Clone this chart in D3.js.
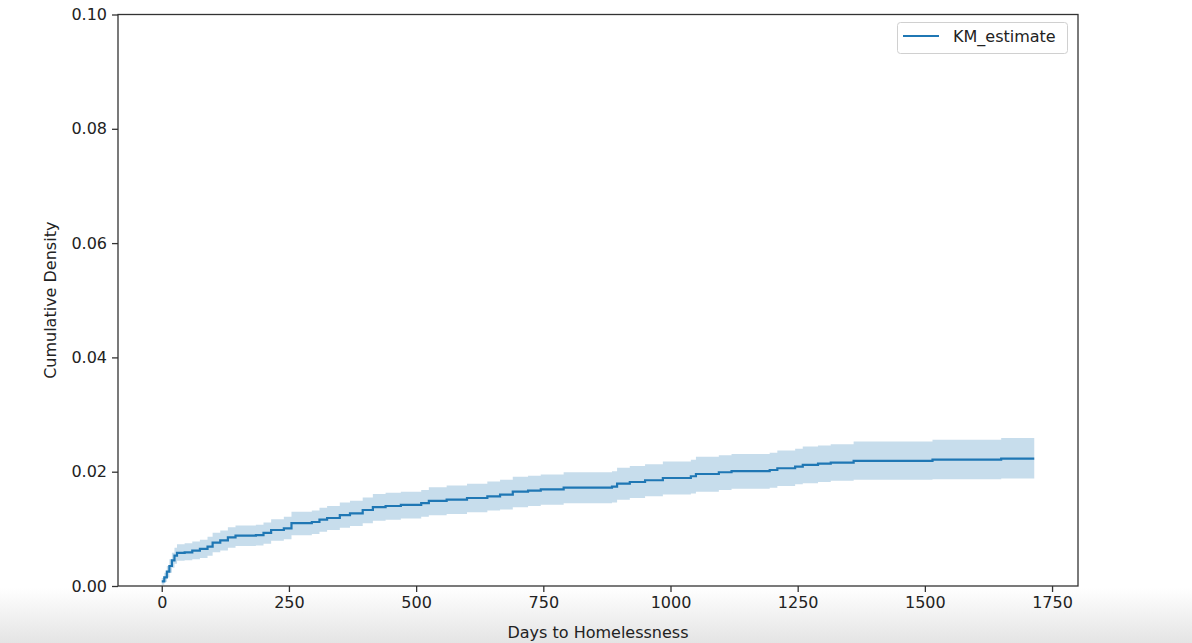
<!DOCTYPE html>
<html><head><meta charset="utf-8">
<script src="https://cdn.jsdelivr.net/npm/d3@7"></script>
<style>html,body{margin:0;padding:0;background:#fff;overflow:hidden}svg{display:block}text{font-family:"DejaVu Sans",sans-serif;fill:#222}</style>
</head><body>
<svg id="c" width="1192" height="643"></svg>
<script>
// Kaplan-Meier cumulative density steps
const days     = [0,5,10,15,20,25,30,45,60,75,90,100,115,130,145,185,200,215,240,255,295,310,325,350,370,395,415,440,470,510,525,560,600,640,665,690,720,745,790,885,895,920,950,985,1040,1050,1095,1120,1195,1210,1245,1260,1290,1315,1360,1515,1650,1715];
const kmEst    = [0.0008,0.0015,0.0025,0.0035,0.0045,0.0053,0.0058,0.0059,0.0062,0.0065,0.0069,0.0076,0.0080,0.0085,0.0088,0.0089,0.0093,0.0098,0.0101,0.0110,0.0112,0.0116,0.0119,0.0124,0.0127,0.0133,0.0138,0.0140,0.0142,0.0145,0.0149,0.0151,0.0154,0.0157,0.0160,0.0165,0.0167,0.0169,0.0172,0.0174,0.0179,0.0182,0.0185,0.0189,0.0192,0.0196,0.0199,0.0201,0.0203,0.0206,0.0209,0.0212,0.0214,0.0216,0.0219,0.0221,0.0223,0.0223];
const ciLower  = [0.0002,0.0007,0.0015,0.0023,0.0032,0.0039,0.0044,0.0045,0.0047,0.0049,0.0053,0.0059,0.0062,0.0067,0.0070,0.0071,0.0074,0.0079,0.0082,0.0089,0.0091,0.0095,0.0098,0.0102,0.0105,0.0110,0.0114,0.0116,0.0118,0.0121,0.0124,0.0126,0.0129,0.0132,0.0134,0.0138,0.0140,0.0142,0.0145,0.0146,0.0151,0.0154,0.0157,0.0160,0.0162,0.0165,0.0168,0.0170,0.0172,0.0175,0.0178,0.0180,0.0182,0.0184,0.0186,0.0187,0.0188,0.0188];
const ciUpper  = [0.0014,0.0023,0.0035,0.0047,0.0058,0.0067,0.0073,0.0075,0.0078,0.0081,0.0086,0.0093,0.0097,0.0103,0.0106,0.0107,0.0111,0.0117,0.0121,0.0130,0.0132,0.0137,0.0140,0.0146,0.0149,0.0155,0.0161,0.0163,0.0165,0.0168,0.0173,0.0176,0.0179,0.0183,0.0186,0.0191,0.0193,0.0195,0.0199,0.0201,0.0207,0.0210,0.0213,0.0218,0.0221,0.0226,0.0229,0.0231,0.0233,0.0237,0.0240,0.0244,0.0246,0.0248,0.0253,0.0256,0.0259,0.0260];
const xTicks = [0,250,500,750,1000,1250,1500,1750];
const yTicks = [0.00,0.02,0.04,0.06,0.08,0.10];
const seriesName = "KM_estimate";
const xLabel = "Days to Homelessness";
const yLabel = "Cumulative Density";

const data = days.map((d,i)=>({t:d,km:kmEst[i],lo:ciLower[i],hi:ciUpper[i]}));

const svg = d3.select("#c");
const L=118, R=1078, T=14.5, B=586;

// bottom screenshot shading
const defs = svg.append("defs");
const g0 = defs.append("linearGradient").attr("id","bg").attr("x1",0).attr("y1",0).attr("x2",0).attr("y2",1);
g0.append("stop").attr("offset","0%").attr("stop-color","#ffffff");
g0.append("stop").attr("offset","100%").attr("stop-color","#e4e4e4");
svg.append("rect").attr("x",0).attr("y",588).attr("width",1192).attr("height",55).attr("fill","url(#bg)");

const x = d3.scaleLinear().domain([-86,1801]).range([L,R]);
const y = d3.scaleLinear().domain([0,0.1]).range([B,T]);

const area = d3.area().curve(d3.curveStepAfter).x(d=>x(d.t)).y0(d=>y(d.lo)).y1(d=>y(d.hi));
const line = d3.line().curve(d3.curveStepAfter).x(d=>x(d.t)).y(d=>y(d.km));

svg.append("path").datum(data).attr("d",area).attr("fill","#1f77b4").attr("fill-opacity",0.25);
svg.append("path").datum(data).attr("d",line).attr("fill","none").attr("stroke","#1f77b4").attr("stroke-width",2.2);

// axes
const xa = svg.append("g").attr("transform",`translate(0,${B})`)
  .call(d3.axisBottom(x).tickValues(xTicks).tickFormat(d3.format("d")).tickSize(6).tickPadding(5).tickSizeOuter(0));
const ya = svg.append("g").attr("transform",`translate(${L},0)`)
  .call(d3.axisLeft(y).tickValues(yTicks).tickFormat(d3.format(".2f")).tickSize(6).tickPadding(5).tickSizeOuter(0));
[xa,ya].forEach(a=>{
  a.select(".domain").remove();
  a.selectAll(".tick line").attr("stroke","#333").attr("stroke-width",1.3);
  a.selectAll(".tick text").attr("font-size",16).attr("fill","#222").style("font-family","DejaVu Sans");
});
// spines
svg.append("rect").attr("x",L).attr("y",T).attr("width",R-L).attr("height",B-T)
  .attr("fill","none").attr("stroke","#333").attr("stroke-width",1.3);

svg.append("text").attr("x",(L+R)/2).attr("y",638).attr("text-anchor","middle").attr("font-size",16).text(xLabel);
svg.append("text").attr("transform",`translate(56,${(T+B)/2}) rotate(-90)`).attr("text-anchor","middle").attr("font-size",16).text(yLabel);

// legend
const lg = svg.append("g");
lg.append("rect").attr("x",897.5).attr("y",22.5).attr("width",170).attr("height",31).attr("rx",3)
  .attr("fill","#fff").attr("fill-opacity",0.8).attr("stroke","#d0d0d0");
lg.append("line").attr("x1",903).attr("x2",939).attr("y1",36).attr("y2",36).attr("stroke","#1f77b4").attr("stroke-width",2.2);
lg.append("text").attr("x",953).attr("y",42).attr("font-size",16).text(seriesName);
</script>
</body></html>
